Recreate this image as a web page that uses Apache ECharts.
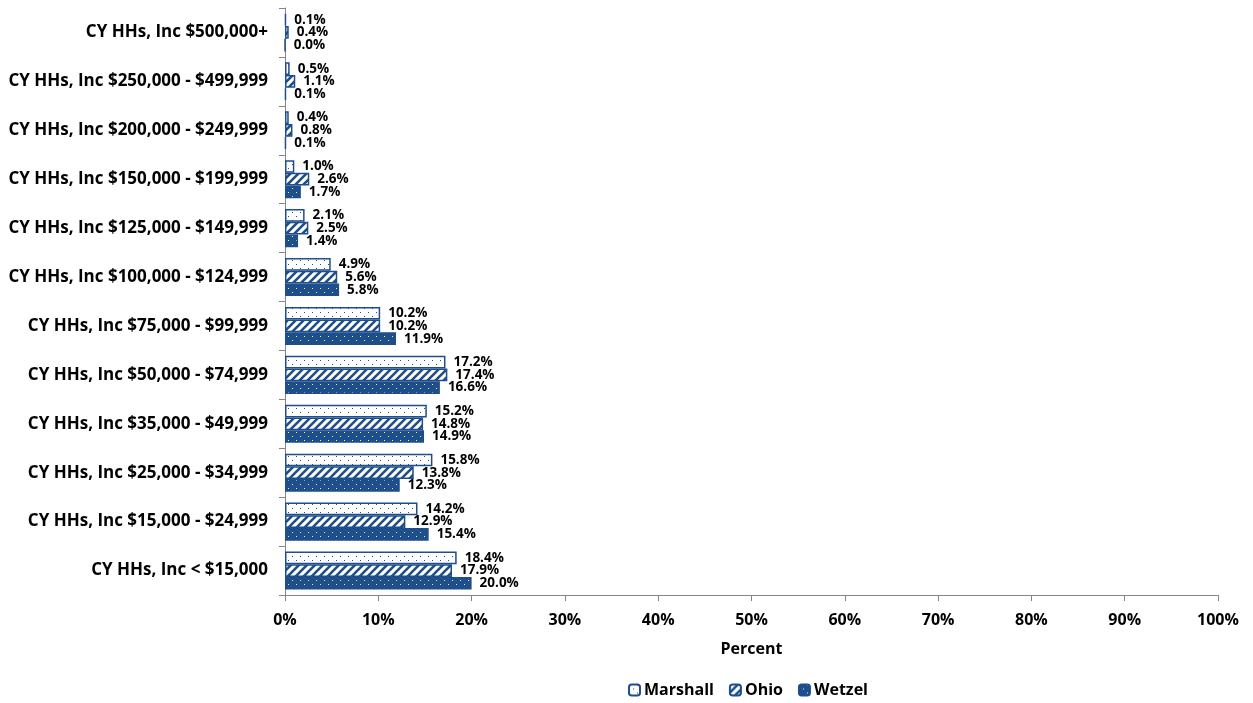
<!DOCTYPE html>
<html>
<head>
<meta charset="utf-8">
<script src="https://cdn.jsdelivr.net/npm/echarts@6/dist/echarts.min.js"></script>
<style>
  html, body { margin: 0; padding: 0; background: #ffffff; }
  #chart { width: 1253px; height: 703px; }
</style>
</head>
<body>
<div id="chart"></div>
<script>
// Household income brackets (bottom to top on the category axis)
const categories = [
  'CY HHs, Inc < $15,000',
  'CY HHs, Inc $15,000 - $24,999',
  'CY HHs, Inc $25,000 - $34,999',
  'CY HHs, Inc $35,000 - $49,999',
  'CY HHs, Inc $50,000 - $74,999',
  'CY HHs, Inc $75,000 - $99,999',
  'CY HHs, Inc $100,000 - $124,999',
  'CY HHs, Inc $125,000 - $149,999',
  'CY HHs, Inc $150,000 - $199,999',
  'CY HHs, Inc $200,000 - $249,999',
  'CY HHs, Inc $250,000 - $499,999',
  'CY HHs, Inc $500,000+'
];
const marshall = [18.4, 14.2, 15.8, 15.2, 17.2, 10.2, 4.9, 2.1, 1.0, 0.4, 0.5, 0.1];
const ohio     = [17.9, 12.9, 13.8, 14.8, 17.4, 10.2, 5.6, 2.5, 2.6, 0.8, 1.1, 0.4];
const wetzel   = [20.0, 15.4, 12.3, 14.9, 16.6, 11.9, 5.8, 1.4, 1.7, 0.1, 0.1, 0.0];
const xTicks = [0, 10, 20, 30, 40, 50, 60, 70, 80, 90, 100];

const BLUE = '#1F4E8C';
const FONT = '"Open Sans", Lato, sans-serif';

// Fill textures for the three series
function makeTile(w, h, draw) {
  const c = document.createElement('canvas');
  c.width = w; c.height = h;
  draw(c.getContext('2d'));
  return c;
}
const dotsOnWhite = makeTile(8, 8, g => {
  g.fillStyle = '#ffffff'; g.fillRect(0, 0, 8, 8);
  g.fillStyle = BLUE;
  g.fillRect(0, 0, 1, 1);
  g.fillRect(4, 4, 1, 1);
});
const diagonal = makeTile(8, 8, g => {
  g.fillStyle = '#ffffff'; g.fillRect(0, 0, 8, 8);
  g.strokeStyle = BLUE; g.lineWidth = 2.6;
  g.beginPath();
  for (let k = -8; k <= 16; k += 8) {
    g.moveTo(k - 1, 9); g.lineTo(k + 9, -1);
  }
  g.stroke();
});
const dotsOnBlue = makeTile(8, 8, g => {
  g.fillStyle = BLUE; g.fillRect(0, 0, 8, 8);
  g.fillStyle = '#e8eef8';
  g.fillRect(0, 0, 1, 1);
  g.fillRect(4, 4, 1, 1);
});

function barSeries(name, data, tile) {
  return {
    name: name,
    type: 'bar',
    data: data,
    barGap: '0%',
    barCategoryGap: '22%',
    itemStyle: {
      color: { image: tile, repeat: 'repeat' },
      borderColor: BLUE,
      borderWidth: 1.5
    },
    label: {
      show: true,
      position: 'right',
      distance: 8,
      formatter: p => p.value.toFixed(1) + '%',
      fontFamily: FONT,
      fontWeight: 'bold',
      fontSize: 13.5,
      color: '#000000'
    }
  };
}

const chart = echarts.init(document.getElementById('chart'), null, { renderer: 'canvas' });
chart.setOption({
  animation: false,
  backgroundColor: '#ffffff',
  grid: { left: 285, right: 35, top: 8, bottom: 108, containLabel: false },
  legend: {
    data: ['Marshall', 'Ohio', 'Wetzel'],
    bottom: 0,
    left: 623,
    itemWidth: 11,
    itemHeight: 11,
    itemGap: 15,
    textStyle: { fontFamily: FONT, fontWeight: 'bold', fontSize: 16, color: '#000000', padding: [0, 0, 0, -1] }
  },
  xAxis: {
    type: 'value',
    min: 0,
    max: 100,
    interval: 10,
    name: 'Percent',
    nameLocation: 'middle',
    nameGap: 46,
    nameTextStyle: { fontFamily: FONT, fontWeight: 'bold', fontSize: 16, color: '#000000' },
    axisLine: { show: true, lineStyle: { color: '#868686', width: 1 } },
    axisTick: { show: true, length: 6, lineStyle: { color: '#868686' } },
    splitLine: { show: false },
    axisLabel: {
      margin: 17,
      fontFamily: FONT, fontWeight: 'bold', fontSize: 16, color: '#000000',
      formatter: v => (xTicks.indexOf(v) >= 0 ? v + '%' : '')
    }
  },
  yAxis: {
    type: 'category',
    data: categories,
    axisLine: { show: true, lineStyle: { color: '#868686', width: 1 } },
    axisTick: { show: true, length: 6, lineStyle: { color: '#868686' } },
    axisLabel: {
      margin: 17,
      fontFamily: FONT, fontWeight: 'bold', fontSize: 17, color: '#000000'
    }
  },
  // Series order: first series sits at the top of each group
  series: [
    barSeries('Marshall', marshall, dotsOnWhite),
    barSeries('Ohio', ohio, diagonal),
    barSeries('Wetzel', wetzel, dotsOnBlue)
  ]
});
</script>
</body>
</html>
